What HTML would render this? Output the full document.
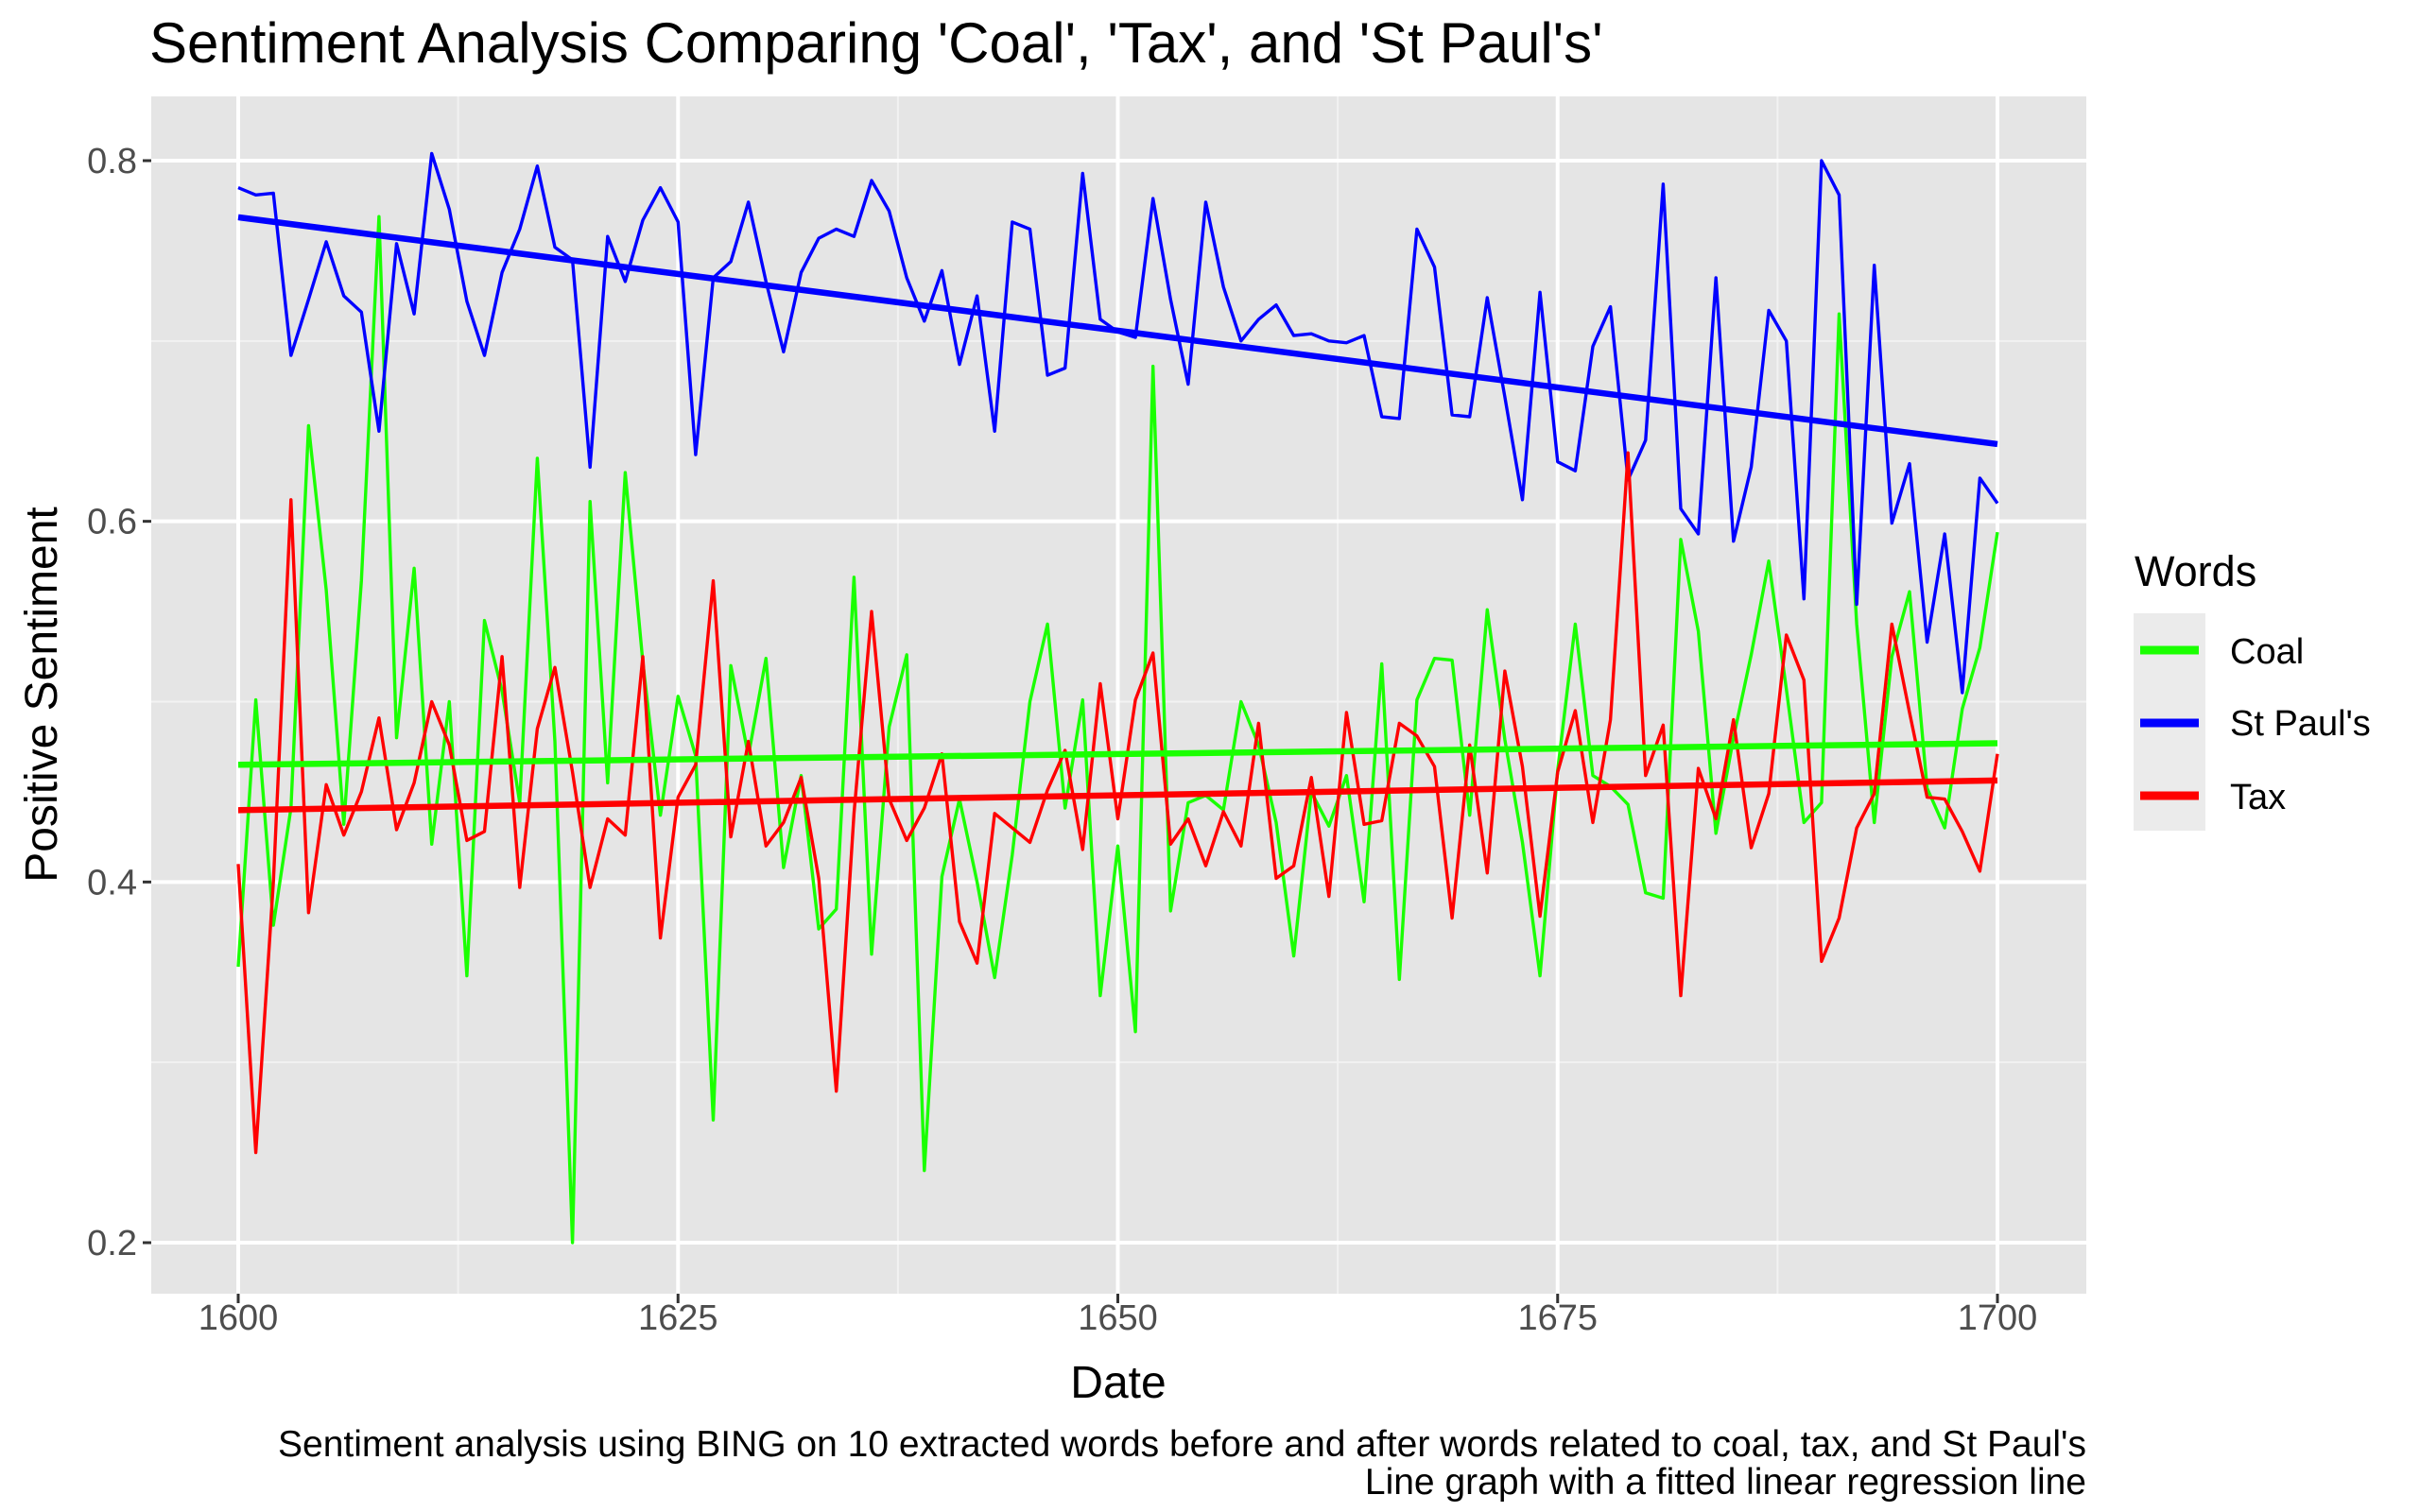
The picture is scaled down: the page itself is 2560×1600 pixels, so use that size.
<!DOCTYPE html>
<html><head><meta charset="utf-8"><style>
body{margin:0;background:#fff;}
svg{display:block;font-family:"Liberation Sans",Arial,sans-serif;}
</style></head><body>
<svg id="chart" width="2560" height="1600" viewBox="0 0 2560 1600">
<text x="158" y="66" font-size="60" fill="#000">Sentiment Analysis Comparing 'Coal', 'Tax', and 'St Paul's'</text>
<rect x="160" y="102" width="2047" height="1267" fill="#e5e5e5"/>
<g id="grid"></g>
<g id="series"></g>
<g id="axes"></g>
<text x="1183" y="1479" font-size="48" text-anchor="middle">Date</text>
<text transform="translate(60,735) rotate(-90)" font-size="48" text-anchor="middle">Positive Sentiment</text>
<g>
<text x="2258" y="620" font-size="45">Words</text>
<rect x="2257" y="649" width="76" height="230" fill="#ebebeb"/>
<line x1="2264" x2="2326" y1="688" y2="688" stroke="#1aff00" stroke-width="9"/>
<line x1="2264" x2="2326" y1="765" y2="765" stroke="#0000ff" stroke-width="9"/>
<line x1="2264" x2="2326" y1="842" y2="842" stroke="#ff0000" stroke-width="9"/>
<text x="2359" y="702" font-size="38">Coal</text>
<text x="2359" y="778" font-size="38">St Paul's</text>
<text x="2359" y="856" font-size="38">Tax</text>
</g>
<text x="2207" y="1541" font-size="39" text-anchor="end">Sentiment analysis using BING on 10 extracted words before and after words related to coal, tax, and St Paul's</text>
<text x="2207" y="1581" font-size="39" text-anchor="end">Line graph with a fitted linear regression line</text>
</svg>
<script>
const startYear = 1600;
const xTicks = [1600, 1625, 1650, 1675, 1700];
const yTicks = [0.2, 0.4, 0.6, 0.8];
const stPauls = [.785,.781,.782,.692,.723,.755,.725,.716,.650,.754,.715,.804,.773,.722,.692,.738,.762,.797,.752,.745,.630,.758,.733,.767,.785,.766,.637,.735,.744,.777,.733,.694,.738,.757,.762,.758,.789,.772,.735,.711,.739,.687,.725,.650,.766,.762,.681,.685,.793,.712,.705,.702,.779,.723,.676,.777,.730,.700,.712,.720,.703,.704,.700,.699,.703,.658,.657,.762,.741,.659,.658,.724,.669,.612,.727,.633,.628,.697,.719,.623,.645,.787,.607,.593,.735,.589,.630,.717,.700,.557,.800,.781,.554,.742,.599,.632,.533,.593,.505,.624,.610];
const coal = [.353,.501,.376,.441,.653,.562,.432,.567,.769,.480,.574,.421,.500,.348,.545,.506,.444,.635,.478,.200,.611,.455,.627,.522,.437,.503,.470,.268,.520,.470,.524,.408,.459,.374,.385,.569,.360,.486,.526,.240,.403,.446,.400,.347,.415,.500,.543,.441,.501,.337,.420,.317,.686,.384,.444,.448,.440,.500,.476,.433,.359,.450,.431,.459,.389,.521,.346,.501,.524,.523,.437,.551,.479,.422,.348,.462,.543,.459,.453,.443,.394,.391,.590,.539,.427,.480,.526,.578,.507,.433,.444,.715,.543,.433,.525,.561,.452,.430,.496,.530,.594];
const tax = [.410,.250,.400,.612,.383,.454,.426,.450,.491,.429,.455,.500,.476,.423,.428,.525,.397,.485,.519,.461,.397,.435,.426,.525,.369,.447,.465,.567,.425,.478,.420,.433,.458,.402,.284,.438,.550,.446,.423,.441,.471,.378,.355,.438,.430,.422,.451,.473,.418,.510,.435,.501,.527,.421,.435,.409,.439,.420,.488,.402,.409,.458,.392,.494,.432,.434,.488,.481,.464,.380,.476,.405,.517,.464,.381,.461,.495,.433,.490,.638,.459,.487,.337,.463,.435,.490,.419,.449,.537,.512,.356,.380,.430,.449,.543,.494,.447,.446,.428,.406,.471];

const NS = 'http://www.w3.org/2000/svg';
const X = yr => 252 + (yr - 1600) * (2113 - 252) / 100;
const Y = v => 170 + (0.8 - v) * (1315 - 170) / 0.6;
const L = 160, R = 2207, T = 102, B = 1369;
function mk(tag, attrs, parent){const e=document.createElementNS(NS,tag);for(const k in attrs)e.setAttribute(k,attrs[k]);parent.appendChild(e);return e;}
const grid = document.getElementById('grid');
const axes = document.getElementById('axes');
const series = document.getElementById('series');
for (let i=0;i<yTicks.length-1;i++){const v=(yTicks[i]+yTicks[i+1])/2;
  const g=mk('line',{x1:L,x2:R,y1:Y(v),y2:Y(v),stroke:'#f2f2f2','stroke-width':2},grid);
  
  }
for (let i=0;i<xTicks.length-1;i++){const v=(xTicks[i]+xTicks[i+1])/2;
  const g=mk('line',{x1:X(v),x2:X(v),y1:T,y2:B,stroke:'#f2f2f2','stroke-width':2},grid);
  
  }
yTicks.forEach(v=>{
  const g=mk('line',{x1:L,x2:R,y1:Y(v),y2:Y(v),stroke:'#fff','stroke-width':4},grid);
  
  
  const tk=mk('line',{x1:L-9,x2:L,y1:Y(v),y2:Y(v),stroke:'#333','stroke-width':3},axes);
  
  
  const t=mk('text',{x:L-15,y:Y(v)+13,'font-size':38,'text-anchor':'end',fill:'#4d4d4d'},axes);
  t.textContent=v.toFixed(1);
  
  
});
xTicks.forEach(v=>{
  const g=mk('line',{x1:X(v),x2:X(v),y1:T,y2:B,stroke:'#fff','stroke-width':4},grid);
  
  
  const tk=mk('line',{x1:X(v),x2:X(v),y1:B,y2:B+10,stroke:'#333','stroke-width':3},axes);
  
  
  const t=mk('text',{x:X(v),y:1407,'font-size':38,'text-anchor':'middle',fill:'#4d4d4d'},axes);
  t.textContent=String(v);
  
  
});
function drawSeries(data, color, name){
  const pts = data.map((v,i)=>X(startYear+i).toFixed(1)+','+Y(v).toFixed(1)).join(' ');
  const p=mk('polyline',{points:pts,fill:'none',stroke:color,'stroke-width':3.4,'stroke-linejoin':'round'},series);
  
  
}
function drawFit(data, color, name){
  const n=data.length; let sx=0,sy=0,sxx=0,sxy=0;
  data.forEach((v,i)=>{sx+=i;sy+=v;sxx+=i*i;sxy+=i*v;});
  const b=(n*sxy-sx*sy)/(n*sxx-sx*sx), a=(sy-b*sx)/n;
  const f=mk('line',{x1:X(startYear),y1:Y(a),x2:X(startYear+n-1),y2:Y(a+b*(n-1)),stroke:color,'stroke-width':6.5},series);
  
  
}
drawSeries(coal,'#1aff00','coal');
drawSeries(stPauls,'#0000ff','st-pauls');
drawSeries(tax,'#ff0000','tax');
drawFit(coal,'#1aff00','coal');
drawFit(stPauls,'#0000ff','st-pauls');
drawFit(tax,'#ff0000','tax');
</script>
</body></html>
